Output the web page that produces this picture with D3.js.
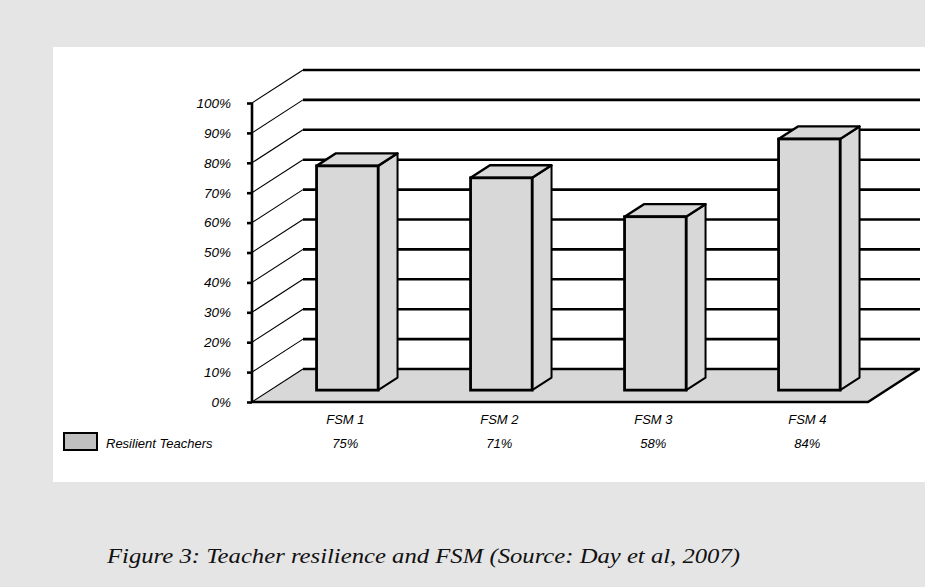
<!DOCTYPE html>
<html>
<head>
<meta charset="utf-8">
<script src="https://cdn.jsdelivr.net/npm/d3@7"></script>
<style>
  body { margin: 0; background: #e5e5e5; }
  svg { display: block; }
</style>
</head>
<body>
<svg width="925" height="587"></svg>
<script>
// Chart data
const categories = ["FSM 1", "FSM 2", "FSM 3", "FSM 4"];
const values = [75, 71, 58, 84];
const valueLabels = ["75%", "71%", "58%", "84%"];
const tickValues = [0, 10, 20, 30, 40, 50, 60, 70, 80, 90, 100];
const seriesName = "Resilient Teachers";
const caption = "Figure 3: Teacher resilience and FSM (Source: Day et al, 2007)";

const svg = d3.select("svg"),
    width = +svg.attr("width"),
    height = +svg.attr("height");

const SANS = "'Liberation Sans', Arial, sans-serif";
const GREY = "#d8d8d8";

// 3d box geometry
const x0 = 252, floorY = 402;        // front left corner of floor
const depth = {dx: 51, dy: -33};     // full depth of the box
const barDepth = [0.36, 0.74];       // front and back of the bars, as share of depth

// Scales
let y = d3.scaleLinear().domain([0, 100]).range([floorY, floorY - 299]);
let x = d3.scaleBand().domain(categories).range([x0, 868]).paddingInner(0.6).paddingOuter(0.3);

// White plot panel
svg.append("rect")
    .attr("x", 53).attr("y", 47)
    .attr("width", width - 53).attr("height", 435)
    .attr("fill", "white");

let g = svg.append("g");

// Floor
const floorPts = [[x0, floorY], [868, floorY], [868 + depth.dx, floorY + depth.dy], [x0 + depth.dx, floorY + depth.dy]];
g.append("polygon")
    .attr("points", floorPts.map(p => p.join(",")).join(" "))
    .attr("fill", GREY);

// Side wall diagonals
g.selectAll(".diag")
    .data(tickValues)
    .enter().append("line")
    .attr("x1", x0).attr("y1", d => y(d))
    .attr("x2", x0 + depth.dx).attr("y2", d => y(d) + depth.dy)
    .attr("stroke", "black").attr("stroke-width", 1.1);

// Back wall gridlines
g.selectAll(".grid")
    .data(tickValues)
    .enter().append("line")
    .attr("x1", x0 + depth.dx).attr("y1", d => y(d) + depth.dy)
    .attr("x2", 920).attr("y2", d => y(d) + depth.dy)
    .attr("stroke", "black").attr("stroke-width", 2.6);

// Floor front and right edges
g.append("polyline")
    .attr("points", [floorPts[0], floorPts[1], floorPts[2]].map(p => p.join(",")).join(" "))
    .attr("fill", "none").attr("stroke", "black").attr("stroke-width", 2.4);

// Value axis
g.append("line")
    .attr("x1", x0).attr("y1", y(100)).attr("x2", x0).attr("y2", floorY + 1)
    .attr("stroke", "black").attr("stroke-width", 2.6);

let axis = d3.axisLeft(y).tickValues(tickValues).tickSize(5).tickPadding(16).tickFormat(d => d + "%");
let axisG = g.append("g").attr("transform", "translate(" + x0 + ",0)").call(axis);
axisG.select(".domain").remove();
axisG.selectAll(".tick line").attr("stroke", "black").attr("stroke-width", 2.6);
axisG.selectAll(".tick text")
    .attr("font-family", SANS).attr("font-size", 13.5).attr("font-style", "italic").attr("fill", "black");

// Bars
const fx = barDepth[0] * depth.dx, fy = barDepth[0] * depth.dy;
const bx = (barDepth[1] - barDepth[0]) * depth.dx, by = (barDepth[1] - barDepth[0]) * depth.dy;

let bars = g.selectAll(".bar")
    .data(categories.map((c, i) => ({cat: c, v: values[i]})))
    .enter().append("g")
    .attr("transform", "translate(" + fx + "," + fy + ")");

bars.each(function(d) {
    let b = d3.select(this);
    let left = x(d.cat), right = x(d.cat) + x.bandwidth();
    let top = y(d.v), bottom = y(0);
    // side face
    b.append("polygon")
        .attr("points", [[right, bottom], [right, top], [right + bx, top + by], [right + bx, bottom + by]].map(p => p.join(",")).join(" "))
        .attr("fill", GREY).attr("stroke", "black").attr("stroke-width", 2).attr("stroke-linejoin", "round");
    // top face
    b.append("polygon")
        .attr("points", [[left, top], [right, top], [right + bx, top + by], [left + bx, top + by]].map(p => p.join(",")).join(" "))
        .attr("fill", GREY).attr("stroke", "black").attr("stroke-width", 2.4).attr("stroke-linejoin", "round");
    // front face
    b.append("rect")
        .attr("x", left).attr("y", top)
        .attr("width", x.bandwidth()).attr("height", bottom - top)
        .attr("fill", GREY).attr("stroke", "black").attr("stroke-width", 2.8);
});

// Category labels and data table row
g.selectAll(".cat")
    .data(categories)
    .enter().append("text")
    .attr("x", d => x(d) + x.bandwidth() / 2 + fx - 2)
    .attr("y", 424)
    .attr("text-anchor", "middle")
    .attr("font-family", SANS).attr("font-size", 13).attr("font-style", "italic")
    .text(d => d);

g.selectAll(".val")
    .data(valueLabels)
    .enter().append("text")
    .attr("x", (d, i) => x(categories[i]) + x.bandwidth() / 2 + fx - 2)
    .attr("y", 448)
    .attr("text-anchor", "middle")
    .attr("font-family", SANS).attr("font-size", 13).attr("font-style", "italic")
    .text(d => d);

// Legend
g.append("rect")
    .attr("x", 64).attr("y", 433).attr("width", 33).attr("height", 17)
    .attr("fill", "#c0c0c0").attr("stroke", "black").attr("stroke-width", 2);
g.append("text")
    .attr("x", 106).attr("y", 448)
    .attr("font-family", SANS).attr("font-size", 13).attr("font-style", "italic")
    .text(seriesName);

// Caption
svg.append("text")
    .attr("x", 107).attr("y", 563)
    .attr("font-family", "'Liberation Serif', serif").attr("font-size", 21).attr("font-style", "italic")
    .attr("textLength", 633).attr("lengthAdjust", "spacingAndGlyphs")
    .attr("fill", "#111")
    .text(caption);
</script>
</body>
</html>
